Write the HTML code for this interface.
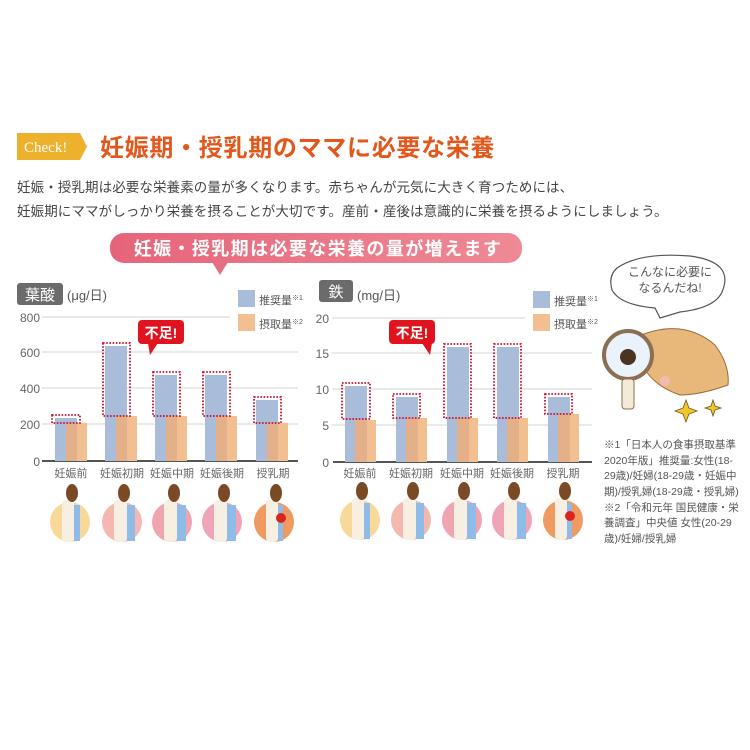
<!DOCTYPE html>
<html><head><meta charset="utf-8"><style>
body{margin:0;background:#fff;}
svg{display:block;font-family:"Liberation Sans","Noto Sans CJK JP",sans-serif;}
</style></head><body>
<svg width="750" height="750" viewBox="0 0 750 750" xmlns="http://www.w3.org/2000/svg">
<rect width="750" height="750" fill="#fff"/>
<path d="M17 133 H80 L87 146.5 L80 160 H17 Z" fill="#eeb12c"/>
<text x="24" y="152" font-family="Liberation Serif,serif" font-size="15" fill="#fff">Check!</text>
<text x="100" y="156" font-size="24" font-weight="bold" fill="#e2581c" letter-spacing="0.7">妊娠期・授乳期のママに必要な栄養</text>
<text x="17" y="192" font-size="13.5" fill="#444" letter-spacing="0.1">妊娠・授乳期は必要な栄養素の量が多くなります。赤ちゃんが元気に大きく育つためには、</text>
<text x="17" y="216" font-size="13.5" fill="#444" letter-spacing="0.1">妊娠期にママがしっかり栄養を摂ることが大切です。産前・産後は意識的に栄養を摂るようにしましょう。</text>
<defs><linearGradient id="bg" x1="0" x2="1"><stop offset="0" stop-color="#e6647a"/><stop offset="1" stop-color="#ee8a95"/></linearGradient></defs>
<rect x="110" y="233" width="412" height="30" rx="14" fill="url(#bg)"/>
<path d="M212 262 L220 275 L228 262 Z" fill="#e6707f"/>
<text x="318" y="255" text-anchor="middle" font-size="18" font-weight="bold" fill="#fff" letter-spacing="1.4">妊娠・授乳期は必要な栄養の量が増えます</text>

<rect x="17" y="283" width="46" height="22" rx="3" fill="#6b6b6b"/>
<text x="40" y="300" text-anchor="middle" font-size="15" fill="#fff">葉酸</text>
<text x="67" y="300" font-size="13" fill="#555">(μg/日)</text>
<g stroke="#e2e2e2" stroke-width="1.5">
<line x1="42" y1="317" x2="230" y2="317"/><line x1="42" y1="352" x2="298" y2="352"/><line x1="42" y1="388" x2="298" y2="388"/><line x1="42" y1="424" x2="298" y2="424"/>
</g>
<line x1="42" y1="461" x2="298" y2="461" stroke="#555" stroke-width="2"/>
<g font-size="12" fill="#666" text-anchor="end">
<text x="40" y="322">800</text><text x="40" y="357">600</text><text x="40" y="393">400</text><text x="40" y="429">200</text><text x="40" y="466">0</text></g>
<g fill="#a9bcd9">
<rect x="55" y="418" width="22" height="43"/><rect x="105" y="346" width="22" height="115"/><rect x="155" y="375" width="22" height="86"/><rect x="205" y="375" width="22" height="86"/><rect x="256" y="400" width="22" height="61"/></g>
<g fill="#f2c090">
<rect x="66" y="423" width="21" height="38"/><rect x="116" y="416" width="21" height="45"/><rect x="166" y="416" width="21" height="45"/><rect x="216" y="416" width="21" height="45"/><rect x="267" y="423" width="21" height="38"/></g>
<g fill="#e3b08a">
<rect x="66" y="423" width="11" height="38"/><rect x="116" y="416" width="11" height="45"/><rect x="166" y="416" width="11" height="45"/><rect x="216" y="416" width="11" height="45"/><rect x="267" y="423" width="11" height="38"/></g>
<g fill="none" stroke="#c8102e" stroke-width="1.8" stroke-dasharray="1.6 1.6">
<rect x="52" y="415" width="28" height="8"/><rect x="103" y="343" width="27" height="73"/><rect x="153" y="372" width="27" height="44"/><rect x="203" y="372" width="27" height="44"/><rect x="254" y="397" width="27" height="26"/></g>
<g font-size="11" fill="#666" text-anchor="middle">
<text x="71" y="477">妊娠前</text><text x="122" y="477">妊娠初期</text><text x="172" y="477">妊娠中期</text><text x="222" y="477">妊娠後期</text><text x="273" y="477">授乳期</text></g>
<rect x="138" y="320" width="46" height="24" rx="4" fill="#e0131e"/><path d="M148 343 L150 355 L158 343 Z" fill="#e0131e"/>
<text x="161" y="338" text-anchor="middle" font-size="14" font-weight="bold" fill="#fff">不足!</text>
<rect x="238" y="290" width="17" height="17" fill="#a9bcd9"/><text x="259" y="304" font-size="11" fill="#555">推奨量<tspan font-size="7" dy="-4">※1</tspan></text>
<rect x="238" y="314" width="17" height="17" fill="#f2c090"/><text x="259" y="328" font-size="11" fill="#555">摂取量<tspan font-size="7" dy="-4">※2</tspan></text>

<rect x="319" y="280" width="34" height="22" rx="3" fill="#6b6b6b"/>
<text x="336" y="297" text-anchor="middle" font-size="15" fill="#fff">鉄</text>
<text x="357" y="300" font-size="13" fill="#555">(mg/日)</text>
<g stroke="#e2e2e2" stroke-width="1.5">
<line x1="332" y1="318" x2="525" y2="318"/><line x1="332" y1="353" x2="592" y2="353"/><line x1="332" y1="389" x2="592" y2="389"/><line x1="332" y1="425" x2="592" y2="425"/>
</g>
<line x1="333" y1="462" x2="592" y2="462" stroke="#555" stroke-width="2"/>
<g font-size="12" fill="#666" text-anchor="end">
<text x="329" y="323">20</text><text x="329" y="358">15</text><text x="329" y="394">10</text><text x="329" y="430">5</text><text x="329" y="467">0</text></g>
<g fill="#a9bcd9">
<rect x="345" y="386" width="22" height="76"/><rect x="396" y="397" width="22" height="65"/><rect x="447" y="347" width="22" height="115"/><rect x="497" y="347" width="22" height="115"/><rect x="548" y="397" width="22" height="65"/></g>
<g fill="#f2c090">
<rect x="355" y="420" width="21" height="42"/><rect x="406" y="418" width="21" height="44"/><rect x="457" y="418" width="21" height="44"/><rect x="507" y="418" width="21" height="44"/><rect x="558" y="414" width="21" height="48"/></g>
<g fill="#e3b08a">
<rect x="355" y="420" width="12" height="42"/><rect x="406" y="418" width="12" height="44"/><rect x="457" y="418" width="12" height="44"/><rect x="507" y="418" width="12" height="44"/><rect x="558" y="414" width="12" height="48"/></g>
<g fill="none" stroke="#c8102e" stroke-width="1.8" stroke-dasharray="1.6 1.6">
<rect x="342" y="383" width="28" height="36"/><rect x="393" y="394" width="27" height="24"/><rect x="444" y="344" width="27" height="74"/><rect x="494" y="344" width="27" height="74"/><rect x="545" y="394" width="27" height="20"/></g>
<g font-size="11" fill="#666" text-anchor="middle">
<text x="360" y="477">妊娠前</text><text x="411" y="477">妊娠初期</text><text x="462" y="477">妊娠中期</text><text x="512" y="477">妊娠後期</text><text x="563" y="477">授乳期</text></g>
<rect x="389" y="320" width="46" height="24" rx="4" fill="#e0131e"/><path d="M422 343 L430 355 L432 343 Z" fill="#e0131e"/>
<text x="412" y="338" text-anchor="middle" font-size="14" font-weight="bold" fill="#fff">不足!</text>
<rect x="533" y="291" width="17" height="17" fill="#a9bcd9"/><text x="554" y="305" font-size="11" fill="#555">推奨量<tspan font-size="7" dy="-4">※1</tspan></text>
<rect x="533" y="314" width="17" height="17" fill="#f2c090"/><text x="554" y="328" font-size="11" fill="#555">摂取量<tspan font-size="7" dy="-4">※2</tspan></text>

<g>
<circle cx="70" cy="522" r="20" fill="#f8d99a"/><circle cx="122" cy="522" r="20" fill="#f4b8b0"/><circle cx="172" cy="522" r="20" fill="#f0a4b0"/><circle cx="222" cy="522" r="20" fill="#f0a4b8"/><circle cx="274" cy="522" r="20" fill="#ef9a60"/>
<circle cx="360" cy="520" r="20" fill="#f8d99a"/><circle cx="411" cy="520" r="20" fill="#f4b8b0"/><circle cx="462" cy="520" r="20" fill="#f0a4b0"/><circle cx="512" cy="520" r="20" fill="#f0a4b8"/><circle cx="563" cy="520" r="20" fill="#ef9a60"/>
</g>
<g fill="#f6efe2">
<rect x="62" y="500" width="12" height="42" rx="4"/><rect x="114" y="500" width="13" height="42" rx="4"/><rect x="164" y="500" width="13" height="42" rx="4"/><rect x="214" y="500" width="13" height="42" rx="4"/><rect x="266" y="500" width="12" height="42" rx="4"/>
<rect x="352" y="498" width="12" height="42" rx="4"/><rect x="403" y="498" width="13" height="42" rx="4"/><rect x="454" y="498" width="13" height="42" rx="4"/><rect x="504" y="498" width="13" height="42" rx="4"/><rect x="555" y="498" width="12" height="42" rx="4"/></g>
<g fill="#8fbbe8">
<rect x="74" y="505" width="6" height="36"/><rect x="127" y="505" width="8" height="36"/><rect x="177" y="505" width="9" height="36"/><rect x="227" y="505" width="9" height="36"/><rect x="278" y="505" width="5" height="36"/>
<rect x="364" y="503" width="6" height="36"/><rect x="416" y="503" width="8" height="36"/><rect x="467" y="503" width="9" height="36"/><rect x="517" y="503" width="9" height="36"/><rect x="567" y="503" width="5" height="36"/></g>
<g fill="#7a4a26">
<ellipse cx="72" cy="493" rx="6" ry="9"/><ellipse cx="124" cy="493" rx="6" ry="9"/><ellipse cx="174" cy="493" rx="6" ry="9"/><ellipse cx="224" cy="493" rx="6" ry="9"/><ellipse cx="276" cy="493" rx="6" ry="9"/>
<ellipse cx="362" cy="491" rx="6" ry="9"/><ellipse cx="413" cy="491" rx="6" ry="9"/><ellipse cx="464" cy="491" rx="6" ry="9"/><ellipse cx="514" cy="491" rx="6" ry="9"/><ellipse cx="565" cy="491" rx="6" ry="9"/></g>
<circle cx="281" cy="518" r="5" fill="#d8261e"/><circle cx="570" cy="516" r="5" fill="#d8261e"/>

<path d="M617 268 Q640 252 690 256 Q735 262 722 292 Q715 308 680 312 L660 318 L655 308 Q620 305 612 290 Q608 276 617 268 Z" fill="#fff" stroke="#555" stroke-width="1.2"/>
<text x="670" y="276" text-anchor="middle" font-size="12" fill="#555">こんなに必要に</text>
<text x="670" y="292" text-anchor="middle" font-size="12" fill="#555">なるんだね!</text>
<path d="M630 340 Q680 315 715 345 Q730 365 728 385 Q700 395 680 395 Q650 385 640 360 Z" fill="#e8b77a" stroke="#9a6a3a"/>
<circle cx="628" cy="355" r="24" fill="#eaf3fb" stroke="#8b6f55" stroke-width="4"/>
<circle cx="628" cy="357" r="8" fill="#4a3320"/>
<rect x="622" y="379" width="12" height="30" rx="3" fill="#f3ead8" stroke="#8b6f55"/>
<circle cx="665" cy="381" r="5" fill="#f6b8b0"/>
<path d="M686 400 l3 8 8 3 -8 3 -3 8 -3 -8 -8 -3 8 -3z" fill="#f2c62a" stroke="#6a5420" stroke-width=".8"/>
<path d="M713 400 l2 6 6 2 -6 2 -2 6 -2 -6 -6 -2 6 -2z" fill="#f2c62a" stroke="#6a5420" stroke-width=".8"/>
<g font-size="10.5" fill="#555">
<text x="604" y="448">※1「日本人の食事摂取基準</text>
<text x="604" y="464">2020年版」推奨量:女性(18-</text>
<text x="604" y="479">29歳)/妊婦(18-29歳・妊娠中</text>
<text x="604" y="495">期)/授乳婦(18-29歳・授乳婦)</text>
<text x="604" y="511">※2「令和元年 国民健康・栄</text>
<text x="604" y="526">養調査」中央値 女性(20-29</text>
<text x="604" y="542">歳)/妊婦/授乳婦</text>
</g>
</svg>
</body></html>
